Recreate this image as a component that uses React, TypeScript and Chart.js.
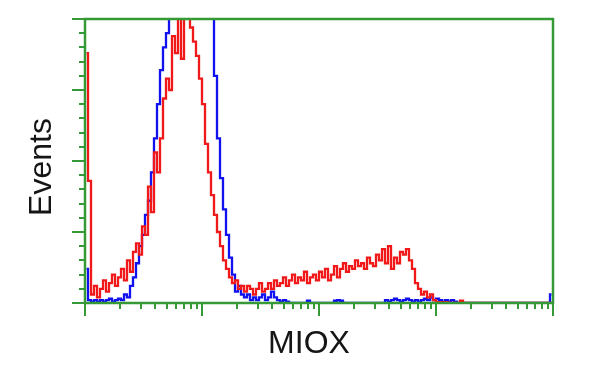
import React, { useEffect, useRef } from "react";
import { Chart, registerables } from "chart.js";
Chart.register(...registerables);

// Histogram bins: 4 log decades, 39 bins per decade
const BINS_PER_DECADE = 39;
const DECADES = 4;
const BINS = BINS_PER_DECADE * DECADES;

const redCounts = [
  88, 43, 3, 6, 2, 5, 8, 4, 7, 10,
  6, 9, 12, 8, 15, 11, 18, 21, 17, 27,
  24, 41, 32, 53, 46, 58, 72, 79, 75, 94,
  88, 101, 86, 103, 104, 97, 92, 87, 79, 70,
  56, 46, 38, 31, 25, 20, 15, 12, 9, 7,
  8, 5, 6, 4, 6, 5, 3, 5, 7, 4,
  5, 7, 5, 8, 6, 7, 9, 6, 8, 10,
  7, 9, 8, 11, 7, 9, 10, 8, 11, 9,
  12, 8, 10, 13, 9, 12, 14, 11, 13, 12,
  15, 13, 14, 12, 16, 14, 13, 17, 15, 19,
  14, 20, 12, 16, 14, 18, 17, 19, 15, 12,
  7, 5, 3, 4, 2, 3, 1, 0.3, 0.3, 0,
  0.3, 0, 0, 0, 0, 0.8, 0, 0, 0, 0,
  0, 0, 0, 0, 0, 0, 0, 0, 0, 0,
  0, 0, 0, 0, 0, 0, 0, 0, 0, 0,
  0, 0, 0, 0, 0, 0,
];

const blueCounts = [
  12, 1, 0.5, 1, 0.5, 1, 0.5, 1, 1.5, 0.5,
  1, 1.5, 1, 3, 2, 6, 9, 14, 20, 24,
  31, 36, 46, 58, 70, 82, 90, 95, 104, 110,
  112, 108, 115, 110, 112, 109, 114, 111, 110, 112,
  108, 110, 104, 80, 58, 44, 33, 24, 16, 10,
  4, 6, 3, 2, 3, 1, 2, 1, 2, 3,
  1, 2, 4, 2, 1, 0.5, 1, 0.5, 0, 0,
  0, 0, 0, 0, 0.8, 0, 0, 0, 0, 0,
  0, 0, 0, 0.8, 1, 0.8, 0, 0, 0, 0,
  0, 0, 0, 0, 0, 0, 0, 0, 0, 0,
  1, 0.5, 1, 1.5, 1, 0.5, 1, 1.5, 1, 0.5,
  1, 0.5, 1, 1.5, 1, 2, 1, 1.5, 1, 0.5,
  1, 0.5, 1, 0.5, 0, 0, 0, 0, 0, 0,
  0, 0, 0, 0, 0, 0, 0, 0, 0, 0,
  0, 0, 0, 0, 0, 0, 0, 0, 0, 0,
  0, 0, 0, 0, 0, 3,
];

const yMax = 100;
const yMajorStep = 25;
const yMinorStep = 5;
const xMinorMultipliers = [2, 3, 4, 5, 6, 7, 8, 9];
const xLabel = "MIOX";
const yLabel = "Events";

const GREEN = "#359a35";
const RED = "#f01818";
const BLUE = "#1010f0";

const framePlugin = {
  id: "frame",
  afterDatasetsDraw(chart: any) {
    const { ctx, chartArea: a, scales } = chart;
    const x = scales.x;
    const y = scales.y;
    ctx.save();
    ctx.strokeStyle = GREEN;
    ctx.lineWidth = 2.5;
    ctx.beginPath();
    ctx.moveTo(a.left, a.bottom);
    ctx.lineTo(a.left, a.top);
    ctx.lineTo(a.right, a.top);
    ctx.lineTo(a.right, a.bottom);
    ctx.lineTo(a.left, a.bottom);
    ctx.stroke();
    ctx.lineWidth = 2;
    // y ticks
    ctx.beginPath();
    for (let v = 0; v <= yMax; v += yMinorStep) {
      const py = Math.round(y.getPixelForValue(v));
      const len = v % yMajorStep === 0 ? 13 : 6;
      ctx.moveTo(a.left - len, py);
      ctx.lineTo(a.left, py);
    }
    // x ticks
    for (let d = 0; d <= DECADES; d++) {
      const px = Math.round(x.getPixelForValue(d * BINS_PER_DECADE));
      ctx.moveTo(px, a.bottom);
      ctx.lineTo(px, a.bottom + 13);
      if (d < DECADES) {
        for (const k of xMinorMultipliers) {
          const mx = Math.round(x.getPixelForValue((d + Math.log10(k)) * BINS_PER_DECADE));
          ctx.moveTo(mx, a.bottom);
          ctx.lineTo(mx, a.bottom + 6);
        }
      }
    }
    ctx.stroke();
    // labels
    ctx.fillStyle = "#151515";
    ctx.font = '32px "Liberation Sans", Arial, sans-serif';
    ctx.textAlign = "center";
    ctx.textBaseline = "middle";
    ctx.fillText(xLabel, a.left + 224, a.bottom + 41);
    ctx.translate(a.left - 43, (a.top + a.bottom) / 2 + 6);
    ctx.rotate(-Math.PI / 2);
    ctx.fillText(yLabel, 0, 0);
    ctx.restore();
  },
};

export default function App() {
  const ref = useRef<HTMLCanvasElement>(null);
  useEffect(() => {
    if (!ref.current) return;
    const chart = new Chart(ref.current, {
      type: "line",
      data: {
        datasets: [
          {
            data: redCounts.map((v, i) => ({ x: i + 0.5, y: v })),
            borderColor: RED,
            borderWidth: 2.3,
            pointRadius: 0,
            stepped: "middle",
            fill: false,
            clip: 0,
          },
          {
            data: blueCounts.map((v, i) => ({ x: i + 0.5, y: v })),
            borderColor: BLUE,
            borderWidth: 2.3,
            pointRadius: 0,
            stepped: "middle",
            fill: false,
            clip: 0,
          },
        ],
      },
      options: {
        animation: false,
        responsive: false,
        layout: { padding: { left: 85, right: 47, top: 19, bottom: 72 } },
        plugins: { legend: { display: false }, tooltip: { enabled: false }, title: { display: false } },
        scales: {
          x: { type: "linear", min: 0, max: BINS, display: false },
          y: { type: "linear", min: 0, max: yMax, display: false },
        },
      },
      plugins: [framePlugin],
    });
    return () => chart.destroy();
  }, []);
  return (
    <div style={{ position: "absolute", left: 0, top: 0, width: 600, height: 375, background: "#fff" }}>
      <canvas ref={ref} width={600} height={375} />
    </div>
  );
}
